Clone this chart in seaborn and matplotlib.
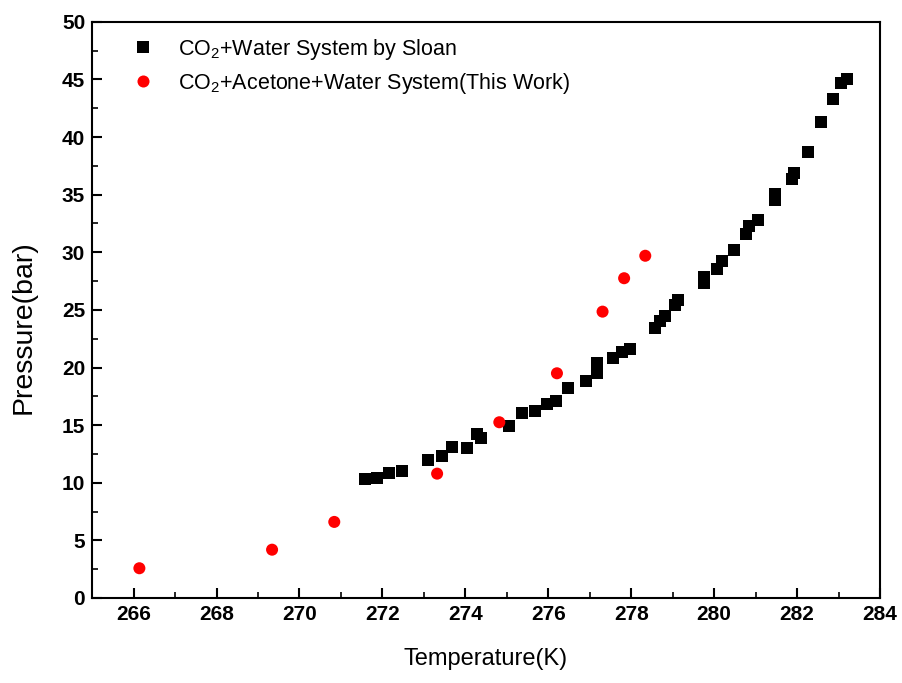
import matplotlib
matplotlib.use("Agg")
import matplotlib.pyplot as plt
import seaborn as sns
import pandas as pd
from matplotlib.ticker import MultipleLocator

sloan_T = [271.57, 271.86, 272.17, 272.47, 273.09, 273.44, 273.69, 274.05, 274.29, 274.38,
           275.05, 275.37, 275.67, 275.97, 276.18, 276.47, 276.90, 277.18, 277.18, 277.57,
           277.77, 277.98, 278.57, 278.70, 278.82, 279.06, 279.14, 279.76, 279.76, 280.08,
           280.19, 280.48, 280.77, 280.85, 281.07, 281.47, 281.47, 281.87, 281.92, 282.26,
           282.58, 282.87, 283.05, 283.21]
sloan_P = [10.30, 10.39, 10.82, 11.05, 11.95, 12.33, 13.13, 13.05, 14.21, 13.86,
           14.93, 16.03, 16.26, 16.81, 17.13, 18.20, 18.81, 19.50, 20.37, 20.81,
           21.38, 21.59, 23.41, 24.07, 24.48, 25.43, 25.87, 27.34, 27.86, 28.58,
           29.28, 30.20, 31.60, 32.30, 32.80, 34.55, 35.04, 36.40, 36.90, 38.70,
           41.30, 43.30, 44.70, 45.00]
work_T = [266.14, 269.34, 270.84, 273.32, 274.82, 276.21, 277.31, 277.83, 278.34]
work_P = [2.58, 4.19, 6.60, 10.79, 15.25, 19.50, 24.85, 27.75, 29.70]

label_sloan = "CO$_2$+Water System by Sloan"
label_work = "CO$_2$+Acetone+Water System(This Work)"

df = pd.concat([
    pd.DataFrame({"T": sloan_T, "P": sloan_P, "series": label_sloan}),
    pd.DataFrame({"T": work_T, "P": work_P, "series": label_work}),
])

sns.set_style("ticks")
plt.rcParams['font.family'] = ['Liberation Sans', 'DejaVu Sans']
plt.rcParams['mathtext.fontset'] = 'custom'
plt.rcParams['mathtext.rm'] = 'Liberation Sans'
plt.rcParams['text.color'] = 'black'
plt.rcParams['axes.labelcolor'] = 'black'
plt.rcParams['xtick.color'] = 'black'
plt.rcParams['ytick.color'] = 'black'

fig = plt.figure(figsize=(9.03, 6.83), dpi=100)
ax = fig.add_axes([0.102, 0.1245, 0.8725, 0.8435])

sns.scatterplot(data=df, x="T", y="P", hue="series", style="series",
                palette={label_sloan: "black", label_work: "#ff0000"},
                markers={label_sloan: "s", label_work: "o"},
                s=75, linewidth=0, ax=ax)

ax.set_xlim(265, 284)
ax.set_ylim(0, 50)
ax.xaxis.set_major_locator(MultipleLocator(2))
ax.xaxis.set_minor_locator(MultipleLocator(1))
ax.yaxis.set_major_locator(MultipleLocator(5))
ax.yaxis.set_minor_locator(MultipleLocator(2.5))
ax.tick_params(which="major", direction="in", length=7, width=1.5, labelsize=15, pad=5,
               colors="black")
ax.tick_params(which="minor", direction="in", length=4, width=1.2, colors="black")
for lab in ax.get_xticklabels() + ax.get_yticklabels():
    lab.set_fontweight("bold")
for sp in ax.spines.values():
    sp.set_linewidth(1.5)
    sp.set_color("black")

ax.set_xlabel("Temperature(K)", fontsize=17, labelpad=17, color="black")
ax.set_ylabel("Pressure(bar)", fontsize=20.5, color="black")
ax.yaxis.set_label_coords(-0.071, 0.47)

leg = ax.legend(loc="upper left", bbox_to_anchor=(0.013, 1.008), frameon=False,
                fontsize=15.5, handletextpad=0.6, labelspacing=0.42, markerscale=1.0)
for t in leg.get_texts():
    t.set_color("black")

fig.savefig("out.png", dpi=100)
